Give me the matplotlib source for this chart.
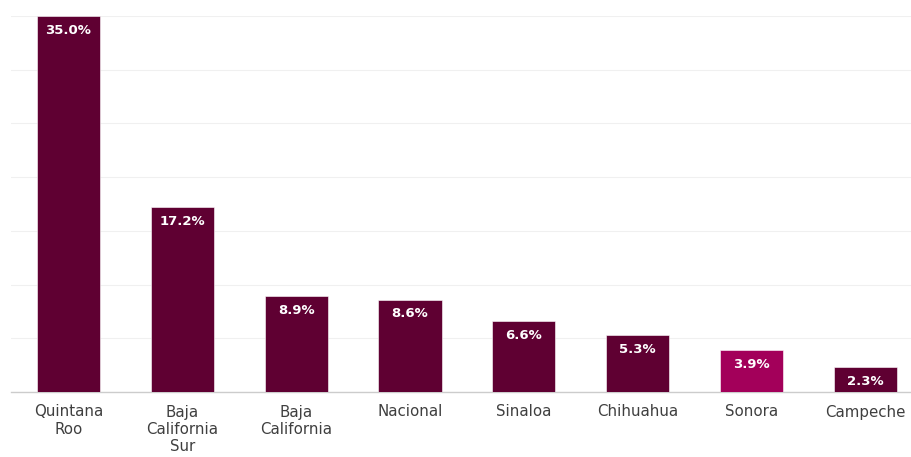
import matplotlib
matplotlib.use("Agg")
import matplotlib.pyplot as plt

categories = ["Quintana\nRoo", "Baja\nCalifornia\nSur", "Baja\nCalifornia", "Nacional",
              "Sinaloa", "Chihuahua", "Sonora", "Campeche"]
values = [35.0, 17.2, 8.9, 8.6, 6.6, 5.3, 3.9, 2.3]
colors = ["#5f0032"] * 6 + ["#a3005a"] + ["#5f0032"]

plt.rcParams['font.family'] = ['DejaVu Sans']

fig = plt.figure(figsize=(9.12, 4.57), dpi=100)
ax = fig.add_axes([11/912, 65/457, 1 - 11/912, (392-16)/457])

x = list(range(len(values)))
ax.bar(x, values, width=0.555, color=colors, edgecolor="#ffffff", linewidth=0.4, zorder=3)

for xi, v in zip(x, values):
    ax.annotate(f"{v:.1f}%", (xi, v), xytext=(0, -5.5), textcoords="offset points",
                ha="center", va="top", color="white", fontsize=9.5, fontweight="bold", zorder=4)

ax.set_ylim(0, 35)
ax.set_xlim(-0.505, 7.41)
ax.set_yticks([0, 5, 10, 15, 20, 25, 30, 35])
ax.yaxis.grid(True, color="#f0f0f0", linewidth=0.8, zorder=0)
ax.tick_params(axis="y", left=False, labelleft=False)
ax.tick_params(axis="x", length=0, pad=9, labelsize=10.8, labelcolor="#3f3f3f")
ax.set_xticks(x)
ax.set_xticklabels(categories, linespacing=1.2)
for s in ["top", "right", "left"]:
    ax.spines[s].set_visible(False)
ax.spines["bottom"].set_color("#cccccc")
ax.spines["bottom"].set_linewidth(1)

fig.savefig("out.png", dpi=100, facecolor="white")
